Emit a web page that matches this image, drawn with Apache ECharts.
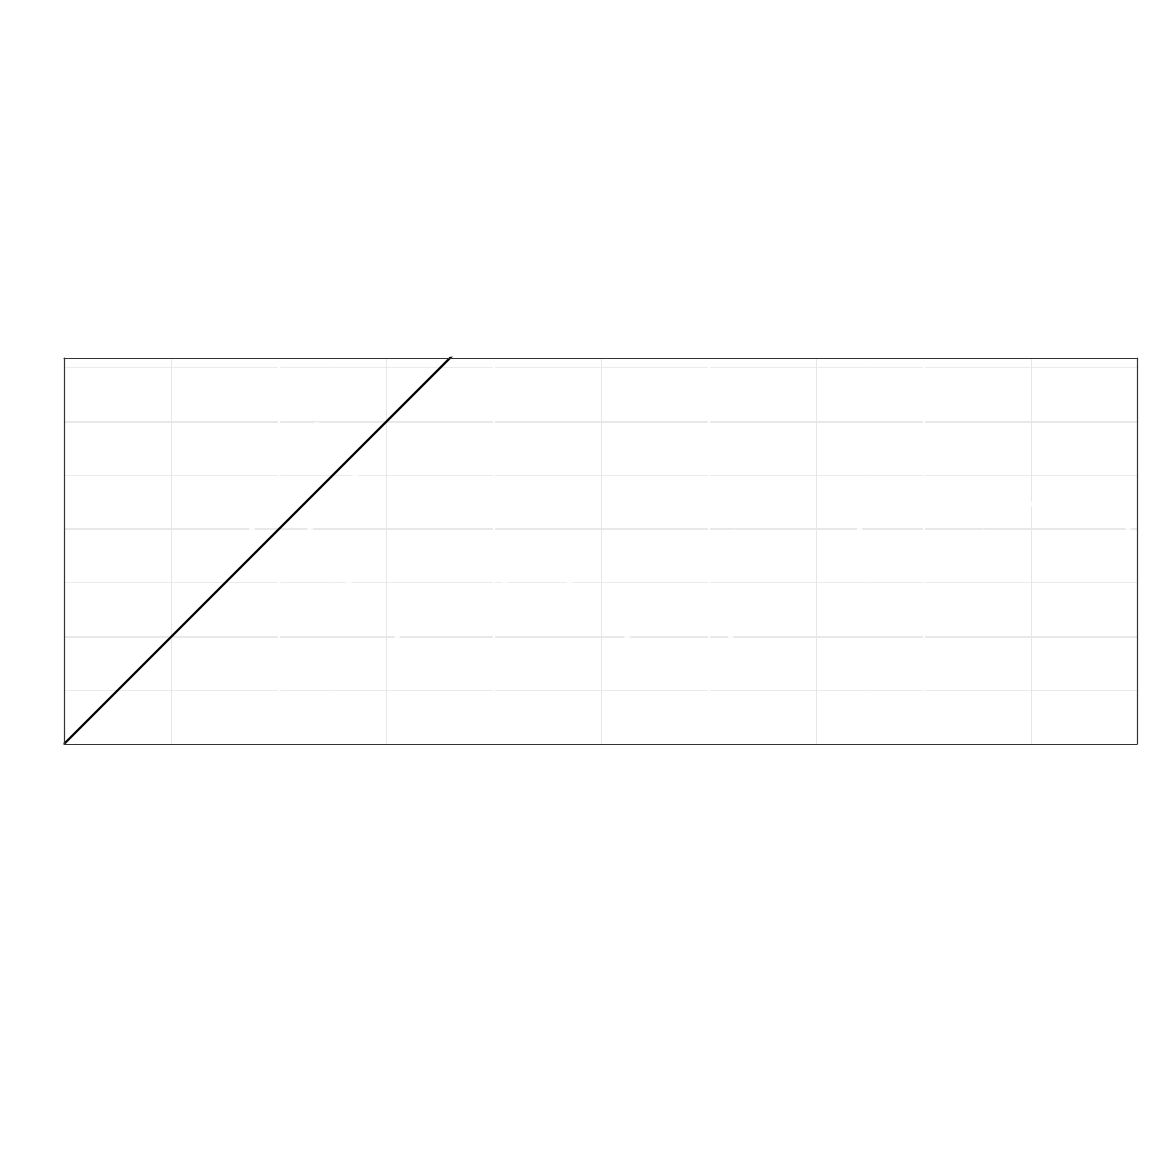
<!DOCTYPE html>
<html>
<head>
<meta charset="utf-8">
<script src="https://cdn.jsdelivr.net/npm/echarts@6/dist/echarts.min.js"></script>
<style>html,body{margin:0;padding:0;background:#fff}#c{width:1152px;height:1152px}</style>
</head>
<body>
<div id="c"></div>
<script>
// Axis ranges (equal aspect: 1 unit = same pixels on both axes)
const xRange = [0, 9.98];
const yRange = [0, 3.59];
// Major x positions drawn as white lines (ggplot major x grid in white)
const xWhiteLines = [2, 4, 6, 8];
// Identity reference line y = x
const refLine = [[0, 0], [10, 10]];
// White points (invisible on white background, only cut the gridlines)
const whiteX = [2.35, 2.71, 1.75, 2.29, 2.65, 4.7, 6.24, 5.24, 6.2, 8.55, 7.4, 9.9, 8.99, 3.1, 4.1];
const whiteY = [2.97, 2.49, 2.0, 2.0, 1.5, 1.5, 1.97, 1.0, 1.0, 1.97, 1.99, 1.99, 2.23, 1.0, 1.5];

const hidden = {axisTick: {show: false}, axisLabel: {show: false}};
const border = {show: true, onZero: false, lineStyle: {color: '#333333', width: 1.2}};

const chart = echarts.init(document.getElementById('c'), null, {renderer: 'canvas'});
chart.setOption({
  backgroundColor: '#ffffff',
  animation: false,
  grid: {left: 64, top: 358, width: 1073, height: 386, show: false},
  xAxis: [
    Object.assign({
      type: 'value', min: xRange[0], max: xRange[1], interval: 1,
      axisLine: {show: false},
      splitLine: {show: true, showMinLine: false, showMaxLine: false,
        lineStyle: {color: '#e6e6e6', width: 1}}
    }, hidden),
    Object.assign({type: 'value', min: xRange[0], max: xRange[1], position: 'bottom',
      axisLine: border, splitLine: {show: false}, z: 10}, hidden),
    Object.assign({type: 'value', min: xRange[0], max: xRange[1], position: 'top',
      axisLine: border, splitLine: {show: false}, z: 10}, hidden)
  ],
  yAxis: [
    Object.assign({
      type: 'value', min: yRange[0], max: yRange[1], interval: 1,
      axisLine: {show: false},
      splitLine: {show: true, showMinLine: false, showMaxLine: false,
        lineStyle: {color: '#e8e8e8', width: 2}},
      minorTick: {show: false, splitNumber: 2},
      minorSplitLine: {show: true, lineStyle: {color: '#ebebeb', width: 1}}
    }, hidden),
    Object.assign({type: 'value', min: yRange[0], max: yRange[1], position: 'left',
      axisLine: border, splitLine: {show: false}, z: 10}, hidden),
    Object.assign({type: 'value', min: yRange[0], max: yRange[1], position: 'right',
      axisLine: border, splitLine: {show: false}, z: 10}, hidden)
  ],
  series: [
    {
      type: 'scatter',
      data: whiteX.map((x, i) => [x, whiteY[i]]),
      symbolSize: 6,
      itemStyle: {color: '#ffffff'},
      silent: true,
      z: 2,
      markLine: {
        silent: true, symbol: 'none', label: {show: false},
        lineStyle: {color: '#ffffff', width: 2.2, type: 'solid'},
        data: xWhiteLines.map(v => ({xAxis: v}))
      }
    },
    {
      type: 'line',
      data: refLine,
      showSymbol: false,
      clip: true,
      lineStyle: {color: '#000000', width: 2.3},
      z: 5
    }
  ]
});
</script>
</body>
</html>
